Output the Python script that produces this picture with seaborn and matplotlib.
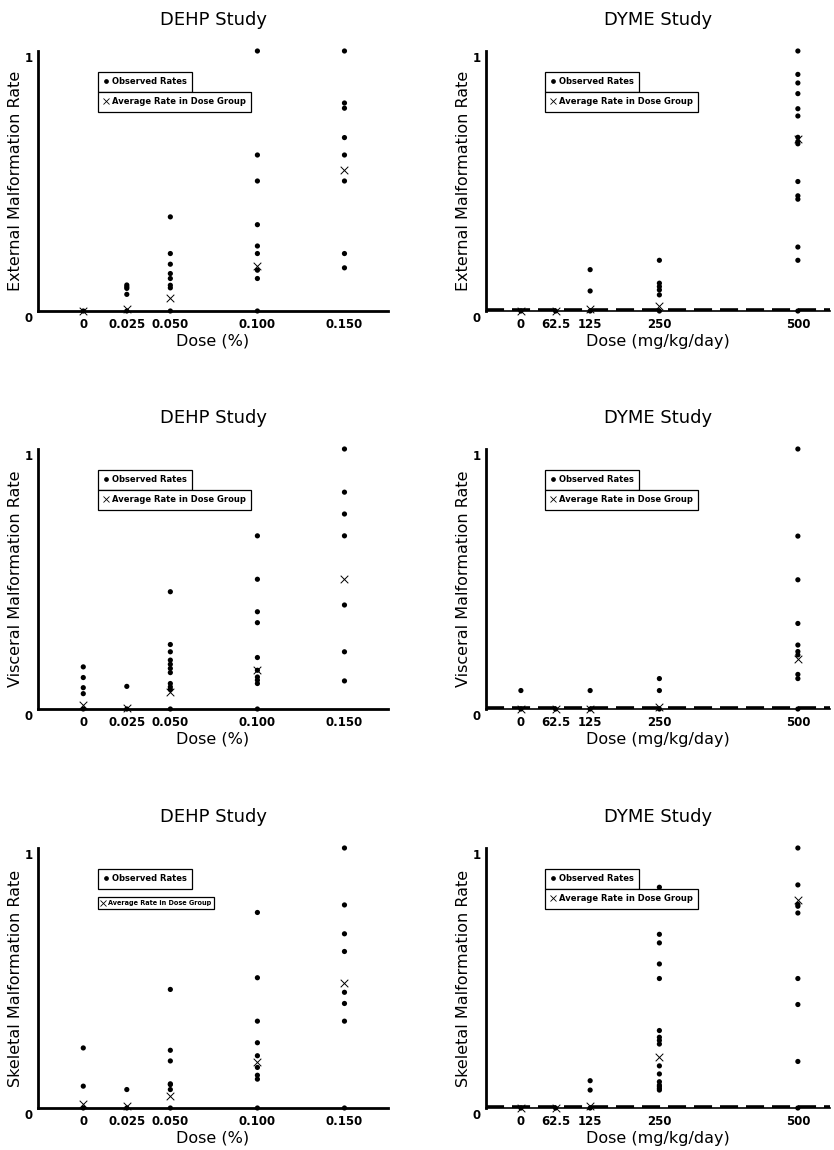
import numpy as np
import pandas as pd
import seaborn as sns
import matplotlib.pyplot as plt
import matplotlib.transforms as mtransforms
from matplotlib.lines import Line2D

sns.set_style("white")
plt.rcParams['font.family'] = ['DejaVu Sans']
plt.rcParams['text.color'] = 'black'
plt.rcParams['axes.labelcolor'] = 'black'

# dose groups
dehp_doses = [0, 0.025, 0.050, 0.100, 0.150]
dyme_doses = [0, 62.5, 125, 250, 500]
dehp_ticklabels = ["0", "0.025", "0.050", "0.100", "0.150"]
dyme_ticklabels = ["0", "62.5", "125", "250", "500"]

# observed litter rates per dose group, and the group average
dehp_ext_obs = [
    [0],
    [0.10, 0.093, 0.087, 0.064, 0],
    [0.362, 0.221, 0.180, 0.144, 0.125, 0.099, 0.089, 0],
    [1.0, 0.60, 0.50, 0.332, 0.25, 0.221, 0.157, 0.125, 0],
    [1.0, 0.80, 0.78, 0.667, 0.60, 0.50, 0.221, 0.166],
]
dehp_ext_avg = [0, 0.009, 0.051, 0.172, 0.542]

dyme_ext_obs = [
    [0],
    [0],
    [0.159, 0.077, 0],
    [0.195, 0.107, 0.094, 0.081, 0.062, 0],
    [1.0, 0.91, 0.877, 0.836, 0.778, 0.75, 0.668, 0.652, 0.643, 0.498, 0.443, 0.43, 0.246, 0.195, 0],
]
dyme_ext_avg = [0, 0, 0.006, 0.019, 0.662]

dehp_visc_obs = [
    [0.162, 0.121, 0.082, 0.059, 0],
    [0.087, 0],
    [0.451, 0.248, 0.220, 0.188, 0.172, 0.156, 0.140, 0.098, 0.085, 0.075, 0],
    [0.666, 0.499, 0.374, 0.332, 0.198, 0.149, 0.123, 0.111, 0.098, 0],
    [1.0, 0.834, 0.75, 0.666, 0.40, 0.22, 0.108],
]
dehp_visc_avg = [0.014, 0.004, 0.066, 0.149, 0.499]

dyme_visc_obs = [
    [0.071, 0],
    [0],
    [0.071, 0],
    [0.117, 0.071, 0],
    [1.0, 0.665, 0.497, 0.329, 0.246, 0.221, 0.208, 0.133, 0.117, 0],
]
dyme_visc_avg = [0, 0, 0, 0.006, 0.191]

dehp_skel_obs = [
    [0.231, 0.084, 0],
    [0.071, 0],
    [0.456, 0.222, 0.181, 0.093, 0.09, 0.071, 0],
    [0.752, 0.501, 0.334, 0.251, 0.201, 0.156, 0.126, 0.111, 0],
    [1.0, 0.781, 0.670, 0.602, 0.445, 0.402, 0.334, 0],
]
dehp_skel_avg = [0.015, 0.008, 0.045, 0.177, 0.482]

dyme_skel_obs = [
    [0],
    [0],
    [0.105, 0.069, 0],
    [0.849, 0.668, 0.635, 0.554, 0.498, 0.298, 0.272, 0.260, 0.246,
     0.162, 0.131, 0.101, 0.088, 0.082, 0.075, 0.069],
    [1.0, 0.858, 0.783, 0.776, 0.750, 0.498, 0.398, 0.179, 0],
]
dyme_skel_avg = [0, 0, 0.009, 0.195, 0.80]


def long_df(doses, obs):
    rows = [(d, r) for d, grp in zip(doses, obs) for r in grp]
    return pd.DataFrame(rows, columns=["dose", "rate"])


def panel(fig, rect, doses, obs, avg, title, ylabel, xlabel, ticklabels,
          xlim, minor, dyme=False, small_leg=False):
    ax = fig.add_axes(rect)
    sns.scatterplot(data=long_df(doses, obs), x="dose", y="rate", ax=ax,
                    color="black", marker="o", s=14, edgecolor="none",
                    clip_on=False, zorder=3)
    sns.scatterplot(x=doses, y=avg, ax=ax, color="black", marker="x",
                    s=30, linewidth=0.7, clip_on=False, zorder=4)
    if dyme:
        ax.axhline(0.004, color="black", lw=2.6, ls=(0, (5, 2.2)), zorder=2)
    ax.set_xlim(*xlim)
    ax.set_ylim(0, 1)
    ax.set_xticks(doses)
    ax.set_xticklabels(ticklabels)
    ax.set_xticks(minor, minor=True)
    ax.set_yticks([0, 1])
    ax.set_yticklabels(["0", "1"])
    ax.tick_params(axis="both", which="both", direction="in", length=5,
                   width=1, labelsize=8.5, pad=5, colors="black")
    ax.tick_params(axis="y", pad=4)
    for lab in ax.get_xticklabels() + ax.get_yticklabels():
        lab.set_fontweight("bold")
    off = mtransforms.ScaledTranslation(0, -4 / 72, fig.dpi_scale_trans)
    for lab in ax.get_yticklabels():
        lab.set_transform(lab.get_transform() + off)
    for s in ["top", "right"]:
        ax.spines[s].set_visible(False)
    ax.spines["left"].set_linewidth(2)
    ax.spines["bottom"].set_linewidth(1.2 if dyme else 2)
    for s in ["left", "bottom"]:
        ax.spines[s].set_color("black")
    ax.set_title(title, fontsize=13, pad=19)
    ax.set_ylabel(ylabel, fontsize=11.5, labelpad=1)
    ax.set_xlabel(xlabel, fontsize=11.5, labelpad=2)

    h_obs = Line2D([], [], marker="o", ls="", color="black", ms=2.4,
                   label="Observed Rates")
    h_avg = Line2D([], [], marker="x", ls="", color="black", ms=4,
                   mew=0.6, label="Average Rate in Dose Group")
    common = dict(loc="upper left", borderaxespad=0, frameon=True,
                  fancybox=False, edgecolor="black", framealpha=1,
                  handlelength=0.5, handletextpad=0.5)
    leg1 = ax.legend(handles=[h_obs], bbox_to_anchor=(0.172, 0.92),
                     prop={"size": 6, "weight": "bold"}, borderpad=0.65,
                     **common)
    leg1.get_frame().set_linewidth(0.9)
    ax.add_artist(leg1)
    if small_leg:
        leg2 = ax.legend(handles=[h_avg], bbox_to_anchor=(0.172, 0.812),
                         prop={"size": 4.7, "weight": "bold"}, borderpad=0.45,
                         **common)
    else:
        leg2 = ax.legend(handles=[h_avg], bbox_to_anchor=(0.172, 0.843),
                         prop={"size": 6, "weight": "bold"}, borderpad=0.65,
                         **common)
    leg2.get_frame().set_linewidth(0.9)
    return ax


fig = plt.figure(figsize=(8.34, 11.5), dpi=100)

W, H = 834, 1150
left_cols = [(38, 350), (486, 344)]
row_bottoms = [311, 709, 1108]
ax_h = 260

dehp_kw = dict(title="DEHP Study", xlabel="Dose (%)", ticklabels=dehp_ticklabels,
               xlim=(-0.026, 0.175), minor=[0.075, 0.125, 0.175])
dyme_kw = dict(title="DYME Study", xlabel="Dose (mg/kg/day)", ticklabels=dyme_ticklabels,
               xlim=(-63, 558), minor=[], dyme=True)

rows = [
    ("External Malformation Rate", dehp_ext_obs, dehp_ext_avg, dyme_ext_obs, dyme_ext_avg),
    ("Visceral Malformation Rate", dehp_visc_obs, dehp_visc_avg, dyme_visc_obs, dyme_visc_avg),
    ("Skeletal Malformation Rate", dehp_skel_obs, dehp_skel_avg, dyme_skel_obs, dyme_skel_avg),
]

for i, (ylab, d_obs, d_avg, y_obs, y_avg) in enumerate(rows):
    b = 1 - row_bottoms[i] / H
    x0, w0 = left_cols[0]
    panel(fig, [x0 / W, b, w0 / W, ax_h / H], dehp_doses, d_obs, d_avg,
          ylabel=ylab, small_leg=(i == 2), **dehp_kw)
    x1, w1 = left_cols[1]
    panel(fig, [x1 / W, b, w1 / W, ax_h / H], dyme_doses, y_obs, y_avg,
          ylabel=ylab, **dyme_kw)

fig.savefig("out.png", dpi=100)
